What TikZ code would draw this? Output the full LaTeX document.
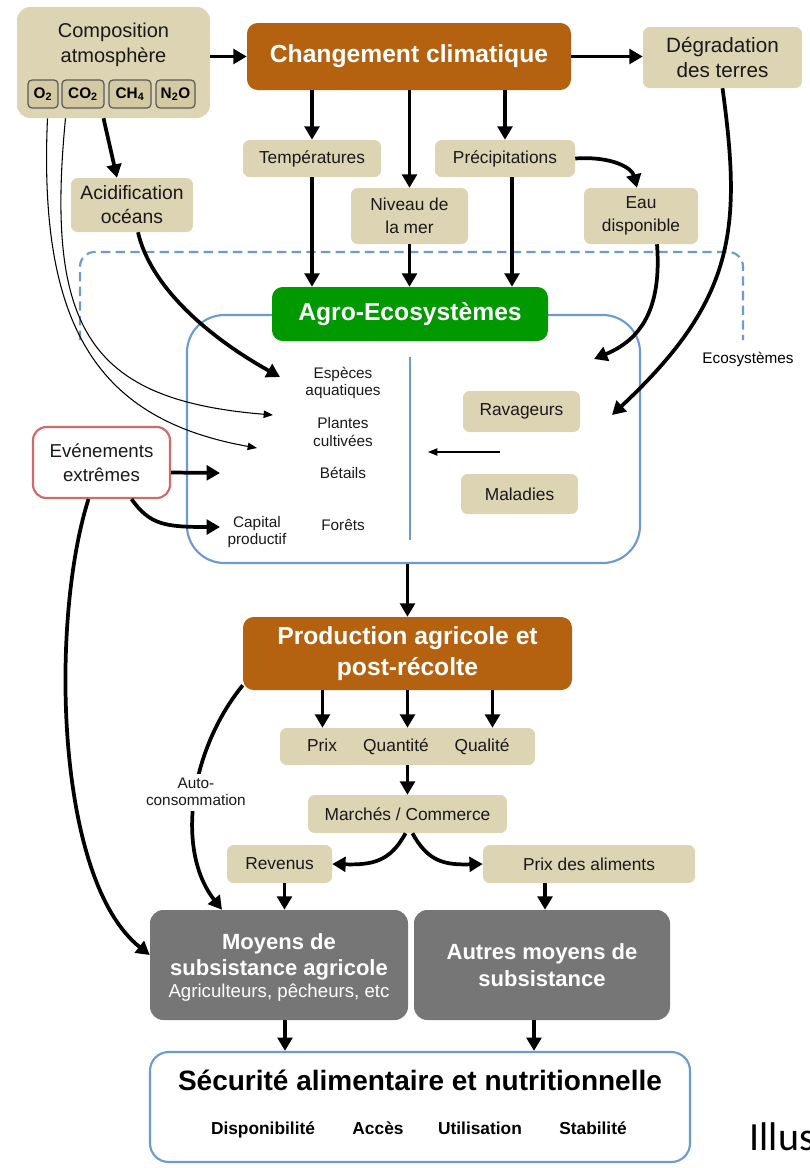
\documentclass[tikz,border=0pt]{standalone}
\usepackage{fontspec}
\setmainfont{Liberation Sans}
\newfontfamily\calibfont{Carlito}
\usetikzlibrary{arrows.meta,calc}
\definecolor{beige}{HTML}{DCD4B2}
\definecolor{beigegas}{HTML}{D3CAA4}
\definecolor{brun}{HTML}{B4620F}
\definecolor{vert}{HTML}{009A00}
\definecolor{gris}{HTML}{767676}
\definecolor{bleu}{HTML}{6C9BD2}
\definecolor{rouge}{HTML}{CF6A6A}
\begin{document}
\begin{tikzpicture}[x=0.75pt,y=-0.75pt,
  sz/.style 2 args={minimum width=#1*0.75pt,minimum height=#2*0.75pt,inner sep=0pt},
  bx/.style={fill=beige, rounded corners=5pt, align=center, text=black!90, font=\fontsize{13}{17}\selectfont},
  big/.style={rounded corners=8pt, align=center, text=white, font=\bfseries\fontsize{18.5}{23}\selectfont},
  gas/.style={draw=black!65, fill=beigegas, line width=0.9pt, rounded corners=3pt, font=\bfseries\fontsize{11.5}{13}\selectfont},
  lbl/.style={align=center, text=black!90, font=\fontsize{11.5}{13}\selectfont},
  gbox/.style={fill=gris, rounded corners=10pt},
  wt/.style={align=center, text=white, font=\bfseries\fontsize{16.5}{20}\selectfont},
  item/.style={font=\bfseries\fontsize{13}{15}\selectfont, text height=1.6ex, text depth=0.4ex},
  pq/.style={text=black!90, font=\fontsize{13}{17}\selectfont, text height=1.6ex, text depth=0.4ex},
  arr/.style={line width=2.8pt, -{Triangle[length=10pt,width=11pt]}},
  tarr/.style={line width=0.8pt, -{Triangle[length=7pt,width=5.5pt]}}
]
\useasboundingbox (0,0) rectangle (810,1168);

% ecosystems frames
\draw[bleu, line width=1.6pt, dash pattern=on 7pt off 4pt, rounded corners=11pt] (80,340) -- (80,252) -- (743,252) -- (743,340);
\node[font=\fontsize{11.5}{13}\selectfont] (ecolbl) at (748,359) {Ecosystèmes};
\node[draw=bleu, line width=1.6pt, rounded corners=28pt, sz={453}{248}] (eco) at (413.5,439) {};
\node[big, fill=vert, sz={276}{54}] (agro) at (410,314) {Agro-Ecosystèmes};
\draw[bleu, line width=1.6pt] (410,357) -- (410,540);

% top
\node[fill=beige, rounded corners=10pt, sz={193}{111}] (comp) at (113.5,62.5) {};
\node[align=center, text=black!90, font=\fontsize{15}{18.75}\selectfont] (comptxt) at (113.5,45) {Composition\\atmosphère};
\node[gas, sz={30}{28}] (o2) at (43,94) {O\textsubscript{2}};
\node[gas, sz={42}{28}] (co2) at (83,94) {CO\textsubscript{2}};
\node[gas, sz={42}{28}] (ch4) at (130,94) {CH\textsubscript{4}};
\node[gas, sz={39}{28}] (n2o) at (175.5,94) {N\textsubscript{2}O};

\node[big, fill=brun, sz={324}{67}] (cc) at (409,56.5) {Changement climatique};
\node[bx, font=\fontsize{15.5}{19}\selectfont, sz={159}{61}] (deg) at (722.5,57.5) {Dégradation\\des terres};
\node[bx, sz={138}{37}] (temp) at (312,158.5) {Températures};
\node[bx, sz={117}{56}] (niv) at (409.5,216) {Niveau de\\la mer};
\node[bx, sz={140}{37}] (prec) at (505,158.5) {Précipitations};
\node[bx, sz={114}{56}] (eau) at (641,216) {Eau\\disponible};
\node[bx, font=\fontsize{14.5}{18}\selectfont, sz={122}{54}] (acid) at (132,205) {Acidification\\océans};

% inside agro-ecosystems
\node[lbl] (esp) at (343,383) {Espèces\\aquatiques};
\node[lbl] (pla) at (343,432) {Plantes\\cultivées};
\node[lbl] (bet) at (343,473) {Bétails};
\node[lbl] (for) at (343,525) {Forêts};
\node[lbl] (cap) at (257,532) {Capital\\productif};
\node[bx, sz={117}{41}] (rav) at (521.5,411.5) {Ravageurs};
\node[bx, sz={117}{40}] (mal) at (519.5,494) {Maladies};
\coordinate (ravmal) at (500,452);
\coordinate (divpt) at (428,452);
\coordinate (espin) at (280,377);
\coordinate (plain) at (273,415);
\coordinate (betin) at (257,448);
\coordinate (evtin) at (220,473);
\coordinate (capin) at (220,527);
\coordinate (eauin) at (594,359);
\coordinate (degin) at (612,415);

\node[draw=rouge, line width=1.6pt, fill=white, rounded corners=10pt, align=center, text=black!90, font=\fontsize{14}{18}\selectfont, sz={137}{71}] (evt) at (101.5,462.5) {Evénements\\extrêmes};

% production chain
\node[big, fill=brun, sz={329}{73}] (prod) at (407.5,653.5) {Production agricole et\\post-récolte};
\node[bx, sz={255}{37}] (pqq) at (407.5,746.5) {};
\node[pq] (prix) at (322,747) {Prix};
\node[pq] (quant) at (396,747) {Quantité};
\node[pq] (qual) at (482,747) {Qualité};
\node[bx, sz={199}{38}] (march) at (407.5,814) {Marchés / Commerce};
\node[bx, sz={105}{38}] (rev) at (279.5,864) {Revenus};
\node[bx, sz={212}{38}] (pda) at (589,864) {Prix des aliments};

\node[gbox, sz={258}{110}] (moy) at (279,965) {};
\node[wt] (moytxt) at (279,957) {Moyens de\\subsistance agricole};
\node[text=white, font=\fontsize{14}{17}\selectfont] (moysub) at (279,993) {Agriculteurs, pêcheurs, etc};
\node[gbox, wt, sz={256}{110}] (aut) at (542,965) {Autres moyens de\\subsistance};

\node[draw=bleu, line width=1.6pt, fill=white, rounded corners=14pt, sz={540}{110}] (sec) at (420,1107) {};
\node[text=black, font=\bfseries\fontsize{21}{24}\selectfont] (sectitle) at (420,1080) {Sécurité alimentaire et nutritionnelle};
\node[item] (dispo) at (263,1130) {Disponibilité};
\node[item] (acces) at (378,1130) {Accès};
\node[item] (util) at (480,1130) {Utilisation};
\node[item] (stab) at (593,1130) {Stabilité};
\node[anchor=base west, font=\calibfont\fontsize{30}{34}\selectfont] (illus) at (745,1150) {Illus};

% arrows
\draw[arr] (comp.east |- cc.west) -- (cc.west);
\draw[arr] (cc.east) -- (cc.east -| deg.west);
\draw[arr] (temp.north |- cc.south) -- (temp.north);
\draw[arr] (niv.north |- cc.south) -- (niv.north);
\draw[arr] (prec.north |- cc.south) -- (prec.north);
\draw[arr] (temp.south) -- (temp.south |- agro.north);
\draw[arr] (niv.south) -- (niv.south |- agro.north);
\draw[arr] ($(prec.south)+(7,0)$) -- ($(prec.south |- agro.north)+(7,0)$);
\draw[arr] (prec.east) .. controls (612,156) and (632,168) .. ($(eau.north)+(-4,0)$);
\draw[arr] ($(comp.south)+(-10,0)$) -- ($(acid.north)+(-15,0)$);
\draw[arr] ($(acid.south)+(6,0)$) .. controls (150,285) and (205,335) .. (espin);
\draw[tarr] ($(comp.south)+(-48,0)$) .. controls (45,330) and (90,400) .. (plain);
\draw[tarr] ($(comp.south)+(-66,0)$) .. controls (38,330) and (100,420) .. (betin);
\draw[arr] ($(eau.south)+(16,0)$) .. controls (662,310) and (640,340) .. (eauin);
\draw[arr] (deg.south) .. controls (742,230) and (735,300) .. (degin);
\draw[tarr] (ravmal) -- (divpt);
\draw[arr] ($(evt.east)+(0,10)$) -- (evtin);
\draw[arr] ($(evt.south)+(30,0)$) .. controls (150,525) and (165,527) .. (capin);
\draw[arr] ($(evt.south)+(-13,0)$) .. controls (50,620) and (55,880) .. ($(moy.west)+(0,-10)$);
\draw[arr] (prod.north |- eco.south) -- (prod.north);
\draw[arr] ($(prod.south)+(-85,0)$) -- ($(pqq.north)+(-85,0)$);
\draw[arr] (prod.south) -- (pqq.north);
\draw[arr] ($(prod.south)+(85,0)$) -- ($(pqq.north)+(85,0)$);
\draw[arr] (pqq.south) -- (march.north);
\draw[arr] ($(march.south)+(-2,0)$) .. controls (390,862) and (372,865) .. (rev.east);
\draw[arr] ($(march.south)+(5,0)$) .. controls (428,862) and (445,865) .. (pda.west);
\draw[arr] ($(rev.south)+(5,0)$) -- ($(rev.south |- moy.north)+(5,0)$);
\draw[arr] ($(pda.south)+(-44,0)$) -- ($(pda.south |- aut.north)+(-44,0)$);
\draw[arr] ($(prod.south west)+(0,-5)$) .. controls (190,750) and (175,850) .. node[pos=0.47, fill=white, align=center, text=black!90, font=\fontsize{11.5}{13}\selectfont] (autolbl) {Auto-\\consommation} ($(moy.north)+(-57,0)$);
\draw[arr] ($(moy.south)+(6,0)$) -- ($(moy.south |- sec.north)+(6,0)$);
\draw[arr] ($(aut.south)+(-8,0)$) -- ($(aut.south |- sec.north)+(-8,0)$);
\end{tikzpicture}
\end{document}
